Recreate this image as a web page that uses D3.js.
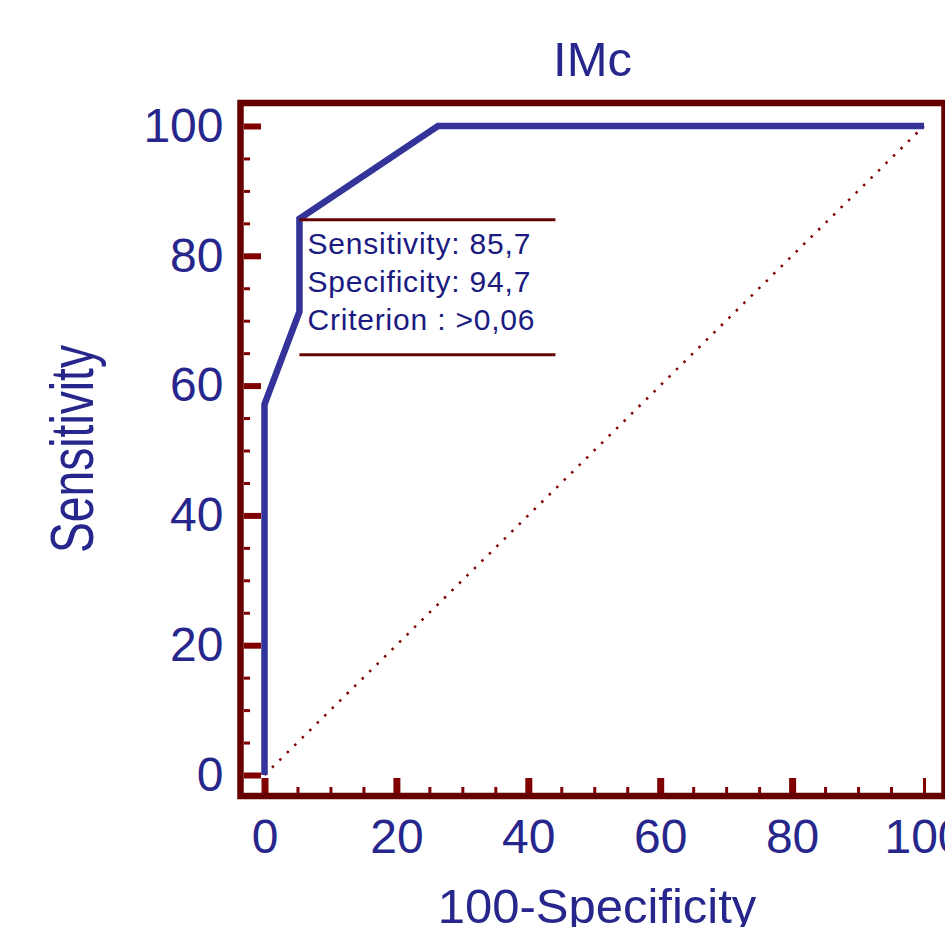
<!DOCTYPE html>
<html>
<head>
<meta charset="utf-8">
<script src="https://cdn.jsdelivr.net/npm/d3@7"></script>
<style>
  body { margin: 0; background: #fff; }
  text { font-family: "Liberation Sans", Arial, sans-serif; }
</style>
</head>
<body>
<div id="roc-chart"></div>
<script>
// ROC curve points (100-Specificity, Sensitivity)
const fprValues = [0, 0, 5.3, 5.3, 26.3, 100];
const tprValues = [0, 57.1, 71.4, 85.7, 100, 100];
const majorTicks = [0, 20, 40, 60, 80, 100];
const minorTicks = [5, 10, 15, 25, 30, 35, 45, 50, 55, 65, 70, 75, 85, 90, 95];
const cutoffPoint = [5.3, 85.7];
const cutoffLines = ["Sensitivity: 85,7", "Specificity: 94,7", "Criterion : >0,06"];
const chartTitle = "IMc";
const xLabel = "100-Specificity";
const yLabel = "Sensitivity";

(function() {
  const width = 945, height = 927;
  const frame = { left: 240.5, top: 103, right: 944.5, bottom: 796 };
  const darkRed = "#660000", tickRed = "#800000", curveBlue = "#333399", textBlue = "#26268c";

  const svg = d3.select("#roc-chart").append("svg")
    .attr("width", width).attr("height", height);

  const x = d3.scaleLinear().domain([0, 100]).range([264.5, 924]);
  const y = d3.scaleLinear().domain([0, 100]).range([775, 126]);

  // title
  svg.append("text").attr("x", (frame.left + frame.right) / 2).attr("y", 76)
    .attr("text-anchor", "middle").attr("font-size", 49).attr("fill", textBlue)
    .text(chartTitle);

  // tick marks inside frame
  const styleTicks = (g, w) => {
    g.select(".domain").remove();
    g.selectAll("line").attr("stroke", tickRed).attr("stroke-width", w);
    g.selectAll("text").remove();
  };
  svg.append("g").attr("transform", `translate(${frame.left + 3.5},0)`)
    .call(d3.axisRight(y).tickValues(majorTicks).tickSize(17))
    .call(g => styleTicks(g, 6));
  svg.append("g").attr("transform", `translate(${frame.left + 3.5},0)`)
    .call(d3.axisRight(y).tickValues(minorTicks).tickSize(6))
    .call(g => styleTicks(g, 3));
  svg.append("g").attr("transform", `translate(0,${frame.bottom - 3})`)
    .call(d3.axisTop(x).tickValues(majorTicks).tickSize(15))
    .call(g => styleTicks(g, 7))
    .call(g => g.selectAll("line").filter(d => d === 100).attr("stroke-width", 3));
  svg.append("g").attr("transform", `translate(0,${frame.bottom - 3})`)
    .call(d3.axisTop(x).tickValues(minorTicks).tickSize(6))
    .call(g => styleTicks(g, 3));

  // tick labels
  const styleLabels = g => {
    g.select(".domain").remove();
    g.selectAll("line").remove();
    g.selectAll("text").attr("font-size", 48).attr("fill", textBlue)
      .attr("font-family", "Liberation Sans, Arial, sans-serif");
  };
  svg.append("g").attr("transform", `translate(${frame.left},0)`)
    .call(d3.axisLeft(y).tickValues(majorTicks).tickSize(0).tickPadding(17))
    .call(styleLabels);
  svg.append("g").attr("transform", `translate(0,${frame.bottom})`)
    .call(d3.axisBottom(x).tickValues(majorTicks).tickSize(0).tickPadding(23))
    .call(styleLabels);

  // axis titles
  svg.append("text").attr("x", 597).attr("y", 923)
    .attr("text-anchor", "middle").attr("font-size", 49).attr("fill", textBlue)
    .text(xLabel);
  svg.append("text").attr("transform", "translate(93,449) rotate(-90)")
    .attr("text-anchor", "middle").attr("font-size", 62).attr("fill", textBlue)
    .attr("textLength", 208).attr("lengthAdjust", "spacingAndGlyphs")
    .text(yLabel);

  // diagonal reference line
  svg.append("line")
    .attr("x1", x(0)).attr("y1", y(0)).attr("x2", x(100)).attr("y2", y(100))
    .attr("stroke", tickRed).attr("stroke-width", 2.5)
    .attr("stroke-dasharray", "2.5 8");

  // ROC curve
  const pts = fprValues.map((v, i) => [v, tprValues[i]]);
  svg.append("path").datum(pts)
    .attr("fill", "none").attr("stroke", curveBlue).attr("stroke-width", 6.5)
    .attr("stroke-linejoin", "miter")
    .attr("d", d3.line().x(d => x(d[0])).y(d => y(d[1])));

  // frame
  svg.append("rect")
    .attr("x", frame.left).attr("y", frame.top)
    .attr("width", frame.right - frame.left).attr("height", frame.bottom - frame.top)
    .attr("fill", "none").attr("stroke", darkRed).attr("stroke-width", 6.5);

  // cut-off annotation
  const ax = x(cutoffPoint[0]), ay = y(cutoffPoint[1]);
  const note = svg.append("g");
  note.append("line").attr("x1", ax).attr("x2", ax + 256).attr("y1", ay + 1).attr("y2", ay + 1)
    .attr("stroke", darkRed).attr("stroke-width", 3);
  note.append("line").attr("x1", ax).attr("x2", ax + 256).attr("y1", ay + 136).attr("y2", ay + 136)
    .attr("stroke", darkRed).attr("stroke-width", 3);
  note.selectAll("text.cut").data(cutoffLines).join("text")
    .attr("class", "cut")
    .attr("x", ax + 8).attr("y", (d, i) => ay + 35 + i * 38)
    .attr("font-size", 30).attr("letter-spacing", 0.8).attr("fill", "#1a1a80")
    .text(d => d);
})();
</script>
</body>
</html>
